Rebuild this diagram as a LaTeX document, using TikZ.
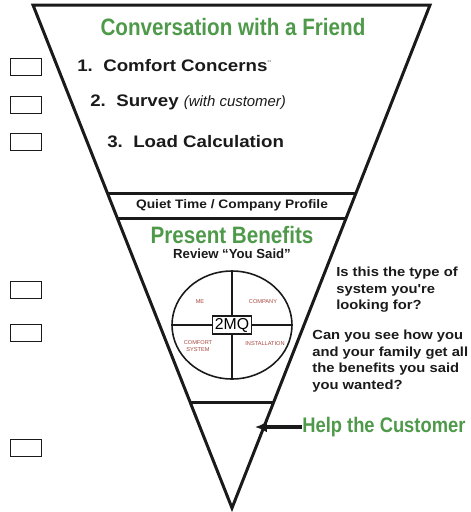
\documentclass[tikz,border=0pt]{standalone}
\usepackage{fontspec}
\setmainfont{Liberation Sans}
\newfontfamily\narrowfont[FakeStretch=0.87]{Liberation Sans}
\newfontfamily\widefont[FakeStretch=1.12]{Liberation Sans}
\usetikzlibrary{arrows.meta,positioning,calc,shapes.geometric}
\definecolor{Ink}{HTML}{1A1A1A}
\definecolor{Leaf}{HTML}{4E9A4A}
\definecolor{Brick}{HTML}{A8443C}

\begin{document}
\begin{tikzpicture}[x=0.02cm, y=-0.02cm,
  funnel/.style={draw=Ink, line width=1.7pt, line join=miter},
  band/.style={draw=Ink, line width=1.7pt},
  tickbox/.style={draw=Ink, line width=0.9pt, minimum width=0.62cm, minimum height=0.34cm, inner sep=0pt},
  heading/.style={text=Leaf, inner sep=0pt, font=\narrowfont\bfseries\fontsize{13.5}{15}\selectfont},
  item/.style={text=Ink, inner sep=0pt, anchor=west, font=\widefont\bfseries\fontsize{9.5}{11}\selectfont},
  caption/.style={text=Ink, inner sep=0pt, font=\widefont\bfseries\fontsize{7}{8}\selectfont},
  note/.style={text=Ink, inner sep=0pt, anchor=north west, align=left, font=\widefont\bfseries\fontsize{7.5}{9.35}\selectfont},
  quarter/.style={text=Brick, inner sep=0pt, align=center, font=\fontsize{3.2}{3.8}\selectfont},
  pointer/.style={draw=Ink, line width=2.2pt, -{Latex[length=2.4mm,width=2.2mm]}}
]
  \useasboundingbox (0,0) rectangle (471,512);

  \coordinate (tl) at (33,5);
  \coordinate (tr) at (430,5);
  \coordinate (apex) at (232,508);
  \draw[funnel] (tl) -- (tr) -- (apex) -- cycle;
  \draw[band] ($(tl)!0.3738!(apex)$) -- ($(tr)!0.3738!(apex)$);
  \draw[band] ($(tl)!0.4235!(apex)$) -- ($(tr)!0.4235!(apex)$);
  \draw[band] ($(tl)!0.7893!(apex)$) -- ($(tr)!0.7893!(apex)$);

  \foreach \y [count=\i] in {67,105,142,290,333,448}
    \node[tickbox] (box\i) at (26,\y) {};

  \node[heading] (friend) at (233,27) {Conversation with a Friend};
  \node[item] (comfort) at (77,66) {1.\ \ Comfort Concerns\raisebox{0.7ex}{\color{gray}\fontsize{4}{4}\selectfont''}};
  \node[item] (survey) at (90,102) {2.\ \ Survey {\normalfont\itshape\fontsize{8.5}{10}\selectfont(with customer)}};
  \node[item] (load) at (107,142) {3.\ \ Load Calculation};

  \node[caption] (quiet) at (232,205) {Quiet Time / Company Profile};
  \node[heading] (present) at (232,235) {Present Benefits};
  \node[caption, font=\bfseries\fontsize{7.5}{9}\selectfont, below=1mm of present] (review) {Review ``You Said''};

  \node[draw=Ink, line width=0.9pt, ellipse, minimum width=2.4cm, minimum height=2.16cm] (wheel) at (232,325) {};
  \draw[Ink, line width=0.8pt] (wheel.north) -- (wheel.south);
  \draw[Ink, line width=0.8pt] (wheel.west) -- (wheel.east);
  \node[draw=Ink, line width=0.8pt, fill=white, inner sep=1.2pt, font=\fontsize{9}{10}\selectfont] (mq) at (wheel) {2MQ};
  \node[quarter] (me) at (200,302) {ME};
  \node[quarter] (company) at (263,302) {COMPANY};
  \node[quarter] (system) at (198,346) {COMFORT\\SYSTEM};
  \node[quarter] (install) at (265,344) {INSTALLATION};

  \node[note] (askfit) at (336,267) {Is this the type of\\system you're\\looking for?};
  \node[note] (askgot) at (312,330) {Can you see how you\\and your family get all\\the benefits you said\\you wanted?};

  \node[heading, anchor=west, font=\narrowfont\bfseries\fontsize{12}{13}\selectfont] (help) at (302,427) {Help the Customer};
  \coordinate (helptip) at (255,427);
  \draw[pointer] (help.west) -- (helptip);
\end{tikzpicture}
\end{document}
